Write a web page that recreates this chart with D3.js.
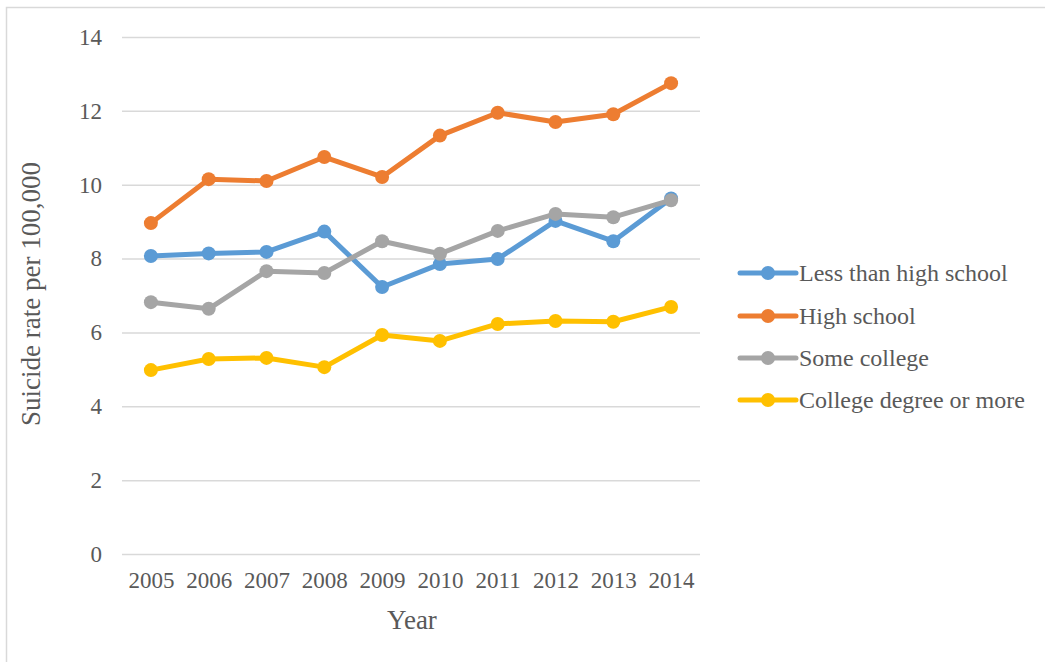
<!DOCTYPE html>
<html>
<head>
<meta charset="utf-8">
<script src="https://cdn.jsdelivr.net/npm/d3@7/dist/d3.min.js"></script>
<style>
  html, body { margin: 0; padding: 0; background: #fff; }
  svg { display: block; }
  svg text { font-family: 'Liberation Serif', 'Times New Roman', Times, serif; fill: #595959; }
</style>
</head>
<body>
<svg id="chart" width="1045" height="662"></svg>
<script>
// Suicide rate per 100,000 by educational attainment
const years = ["2005", "2006", "2007", "2008", "2009", "2010", "2011", "2012", "2013", "2014"];
const seriesNames = ["Less than high school", "High school", "Some college", "College degree or more"];
const lessThanHighSchool = [8.07, 8.14, 8.18, 8.73, 7.23, 7.85, 7.99, 9.02, 8.47, 9.63];
const highSchool        = [8.96, 10.15, 10.10, 10.75, 10.21, 11.33, 11.95, 11.70, 11.91, 12.75];
const someCollege       = [6.82, 6.64, 7.66, 7.61, 8.47, 8.13, 8.75, 9.21, 9.12, 9.58];
const collegeOrMore     = [4.98, 5.28, 5.31, 5.06, 5.93, 5.77, 6.23, 6.31, 6.29, 6.69];
const yTicks = [0, 2, 4, 6, 8, 10, 12, 14];
const colors = ["#5B9BD5", "#ED7D31", "#A5A5A5", "#FFC000"];

const FONT = "'Liberation Serif', 'Times New Roman', Times, serif";

const seriesValues = [lessThanHighSchool, highSchool, someCollege, collegeOrMore];
const series = seriesNames.map((name, i) => ({
  name, color: colors[i],
  points: years.map((y, j) => ({ year: y, value: seriesValues[i][j] }))
}));

const svg = d3.select("#chart");

// outer frame
svg.append("rect")
  .attr("x", 6.5).attr("y", 7.5)
  .attr("width", 1100).attr("height", 700)
  .attr("fill", "none").attr("stroke", "#D9D9D9").attr("stroke-width", 1.5);

const plot = { left: 122, right: 700, top: 37, bottom: 554 };

const x = d3.scalePoint().domain(years).range([plot.left, plot.right]).padding(0.5);
const y = d3.scaleLinear().domain([0, 14]).range([plot.bottom, plot.top]);

// horizontal gridlines with value labels
const yAxis = d3.axisLeft(y).tickValues(yTicks)
  .tickSize(-(plot.right - plot.left)).tickPadding(20).tickFormat(d3.format("d"));
const gy = svg.append("g").attr("transform", `translate(${plot.left},0)`).call(yAxis);
gy.attr("font-family", FONT);
gy.select(".domain").remove();
gy.selectAll(".tick line").attr("stroke", "#D9D9D9").attr("stroke-width", 1.5);
gy.selectAll(".tick text").attr("font-size", 23).attr("fill", "#595959").style("font-family", FONT);

// category labels
const xAxis = d3.axisBottom(x).tickSize(0).tickPadding(18);
const gx = svg.append("g").attr("transform", `translate(0,${plot.bottom})`).call(xAxis);
gx.attr("font-family", FONT);
gx.select(".domain").remove();
gx.selectAll(".tick text").attr("font-size", 23).attr("fill", "#595959").style("font-family", FONT);

// axis titles
svg.append("text")
  .attr("x", 412)
  .attr("y", 629)
  .attr("text-anchor", "middle")
  .attr("font-size", 27)
  .style("font-family", FONT)
  .text("Year");

svg.append("text")
  .attr("transform", "translate(40,294) rotate(-90)")
  .attr("text-anchor", "middle")
  .attr("font-size", 27)
  .style("font-family", FONT)
  .text("Suicide rate per 100,000");

// lines and markers
const line = d3.line().x(d => x(d.year)).y(d => y(d.value));
const g = svg.append("g");
series.forEach(s => {
  g.append("path").datum(s.points)
    .attr("d", line)
    .attr("fill", "none")
    .attr("stroke", s.color)
    .attr("stroke-width", 5)
    .attr("stroke-linejoin", "round")
    .attr("stroke-linecap", "round");
  g.selectAll(null).data(s.points).enter().append("circle")
    .attr("cx", d => x(d.year))
    .attr("cy", d => y(d.value))
    .attr("r", 7)
    .attr("fill", s.color);
});

// legend
const legend = svg.append("g");
const legendRows = [273, 316, 358, 400];
series.forEach((s, i) => {
  const row = legend.append("g").attr("transform", `translate(740,${legendRows[i]})`);
  row.append("line").attr("x1", 0).attr("x2", 56).attr("y1", 0).attr("y2", 0)
    .attr("stroke", s.color).attr("stroke-width", 5).attr("stroke-linecap", "round");
  row.append("circle").attr("cx", 28).attr("cy", 0).attr("r", 7).attr("fill", s.color);
  row.append("text").attr("x", 59).attr("y", 8).attr("font-size", 24)
    .style("font-family", FONT).text(s.name);
});
</script>
</body>
</html>
